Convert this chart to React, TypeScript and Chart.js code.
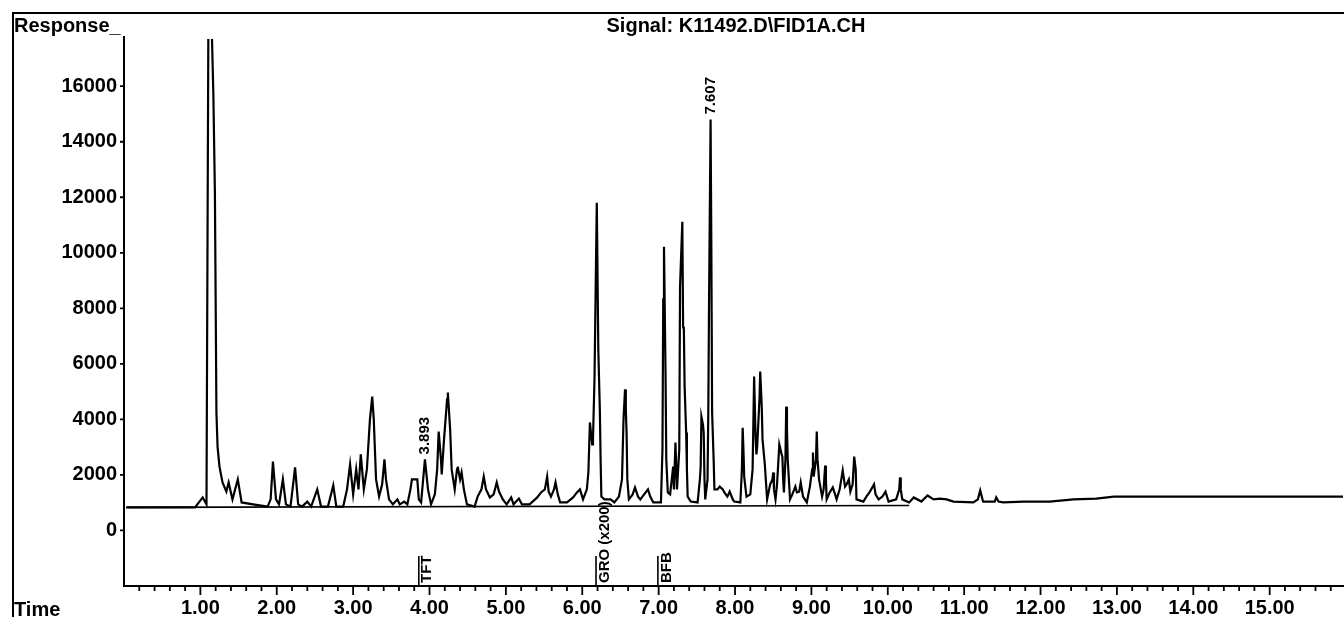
import React, { useEffect, useRef } from 'react';
import { Chart, registerables } from 'chart.js';

Chart.register(...registerables);

const FONT = '"Liberation Sans", Arial, sans-serif';

const chartTitle = 'Signal: K11492.D\\FID1A.CH';
const yAxisTitle = 'Response_';
const xAxisTitle = 'Time';

// Retention time (min) of each traced point of the FID trace
const signalTime = [
  0.03, 0.93, 1.03, 1.08, 1.105, 1.145, 1.17, 1.19, 1.2, 1.21, 1.225, 1.25, 1.29, 1.34, 1.37, 1.42, 1.49, 1.54, 1.69, 1.88,
  1.92, 1.95, 1.99, 2.03, 2.08, 2.12, 2.18, 2.24, 2.28, 2.33, 2.4, 2.45, 2.53, 2.58, 2.67, 2.74, 2.78, 2.87, 2.92, 2.96,
  3.0, 3.04, 3.07, 3.1, 3.14, 3.18, 3.22, 3.25, 3.27, 3.3, 3.34, 3.38, 3.41, 3.43, 3.47, 3.52, 3.58, 3.61, 3.67, 3.71,
  3.75, 3.77, 3.84, 3.86, 3.89, 3.94, 3.98, 4.02, 4.07, 4.1, 4.12, 4.15, 4.16, 4.19, 4.23, 4.24, 4.27, 4.29, 4.33, 4.36,
  4.37, 4.4, 4.42, 4.45, 4.49, 4.59, 4.63, 4.68, 4.71, 4.74, 4.79, 4.84, 4.88, 4.91, 4.96, 5.01, 5.07, 5.1, 5.17, 5.21,
  5.31, 5.41, 5.46, 5.51, 5.54, 5.56, 5.59, 5.63, 5.65, 5.68, 5.71, 5.8, 5.88, 5.93, 5.97, 6.01, 6.06, 6.08, 6.1, 6.13,
  6.14, 6.16, 6.19, 6.2, 6.21, 6.23, 6.24, 6.25, 6.29, 6.37, 6.42, 6.48, 6.52, 6.54, 6.56, 6.57, 6.58, 6.59, 6.61, 6.66,
  6.69, 6.73, 6.76, 6.81, 6.86, 6.89, 6.93, 7.03, 7.05, 7.06, 7.07, 7.09, 7.1, 7.12, 7.15, 7.19, 7.2, 7.22, 7.24, 7.27,
  7.28, 7.31, 7.32, 7.33, 7.34, 7.36, 7.37, 7.38, 7.42, 7.51, 7.54, 7.55, 7.56, 7.58, 7.59, 7.6, 7.61, 7.64, 7.65, 7.66,
  7.68, 7.69, 7.7, 7.72, 7.73, 7.77, 7.8, 7.84, 7.86, 7.9, 7.93, 7.97, 7.99, 8.07, 8.09, 8.1, 8.11, 8.12, 8.15, 8.2,
  8.23, 8.25, 8.27, 8.28, 8.29, 8.32, 8.33, 8.35, 8.36, 8.39, 8.42, 8.46, 8.49, 8.5, 8.51, 8.53, 8.55, 8.58, 8.59, 8.61,
  8.62, 8.63, 8.64, 8.66, 8.67, 8.68, 8.69, 8.72, 8.75, 8.79, 8.81, 8.84, 8.86, 8.89, 8.94, 8.98, 9.01, 9.02, 9.03, 9.06,
  9.07, 9.08, 9.1, 9.14, 9.16, 9.18, 9.19, 9.2, 9.24, 9.28, 9.31, 9.33, 9.37, 9.41, 9.44, 9.46, 9.49, 9.51, 9.54, 9.56,
  9.58, 9.59, 9.68, 9.72, 9.76, 9.82, 9.84, 9.88, 9.93, 9.97, 10.01, 10.11, 10.15, 10.16, 10.17, 10.19, 10.28, 10.34, 10.44, 10.52,
  10.6, 10.68, 10.77, 10.86, 11.12, 11.18, 11.21, 11.24, 11.25, 11.4, 11.42, 11.45, 11.51, 11.78, 12.12, 12.43, 12.73, 12.96, 13.17, 15.96,
];

// Detector response of each traced point
const signalResponse = [
  830, 830, 1190, 940, 18500, 18500, 15700, 12200, 8300, 4250, 3020, 2300, 1730, 1400, 1730, 1120, 1840, 1010, 940, 860,
  1120, 2480, 1120, 940, 1840, 940, 860, 2270, 940, 860, 1040, 860, 1480, 860, 860, 1620, 860, 860, 1480, 2380,
  1300, 2200, 1480, 2740, 1480, 2200, 4000, 4820, 4000, 1840, 1220, 1660, 2560, 1840, 1120, 940, 1120, 940, 1040, 940,
  1480, 1840, 1840, 1120, 1010, 2560, 1480, 940, 1300, 2200, 3560, 2560, 2020, 3280, 4720, 4970, 3640, 2200, 1480, 2200,
  2300, 1840, 2090, 1480, 940, 860, 1220, 1480, 1940, 1480, 1190, 1300, 1730, 1400, 1120, 940, 1190, 940, 1150, 940,
  940, 1190, 1370, 1480, 1940, 1400, 1220, 1480, 1730, 1300, 1010, 1010, 1190, 1370, 1480, 1120, 1480, 2090, 3890, 3100,
  3280, 5440, 11800, 9150, 6520, 4360, 2560, 1220, 1120, 1120, 1010, 1220, 1840, 4000, 5080, 4360, 3530, 1840, 1120, 1300,
  1550, 1220, 1120, 1300, 1480, 1220, 1010, 1010, 2920, 8320, 10220, 5690, 2560, 1370, 1300, 2300, 1480, 3170, 1480, 2920,
  8780, 11120, 7340, 7240, 5180, 3530, 2200, 1220, 1040, 1010, 1840, 2300, 4100, 3820, 3530, 1840, 1120, 1840, 4250, 8320,
  14800, 10120, 4250, 2560, 1480, 1480, 1580, 1480, 1370, 1220, 1400, 1120, 1040, 1010, 2200, 3700, 2920, 1940, 1220, 1300,
  2200, 5540, 3280, 2740, 3020, 4720, 5720, 4460, 3280, 2380, 1120, 1660, 1840, 2090, 1480, 1120, 1660, 3100, 2990, 2740,
  2660, 1840, 1370, 2560, 4460, 3640, 2560, 1120, 1300, 1580, 1370, 1400, 1730, 1220, 1010, 1580, 2200, 2810, 1940, 2560,
  3560, 2560, 1840, 1220, 1480, 2340, 1840, 1120, 1370, 1550, 1300, 1120, 1480, 2160, 1580, 1660, 1840, 1400, 1660, 2660,
  2200, 1120, 1040, 1220, 1370, 1660, 1300, 1120, 1220, 1400, 1040, 1120, 1480, 1910, 1480, 1120, 1010, 1190, 1040, 1260,
  1120, 1150, 1120, 1040, 1010, 1120, 1440, 1120, 1040, 1040, 1190, 1040, 1010, 1040, 1040, 1120, 1150, 1220, 1220, 1220,
];

// Integration baseline
const baselineTime = [0.03, 10.28];
const baselineResponse = [830, 900];

// Peak retention-time labels
const peakLabelTexts = ['3.893', '7.607'];
const peakLabelTimes = [3.94, 7.68];
const peakLabelResponses = [2560, 14800];

// Compound markers along the time axis
const markerTexts = ['TFT', 'GRO (x200)', 'BFB'];
const markerTimes = [3.86, 6.18, 6.99];

// Axis ticks
const yTickValues = [0, 2000, 4000, 6000, 8000, 10000, 12000, 14000, 16000];
const xMin = 0;
const xMax = 15.96;
const xTickStep = 0.2;
const yMin = -2000;
const yMax = 17700;

const decorPlugin = {
  id: 'chromDecor',
  afterDraw(chart: any) {
    const { ctx, chartArea: a, scales } = chart;
    const xs = scales.x;
    const ys = scales.y;
    ctx.save();
    ctx.strokeStyle = '#000';
    ctx.fillStyle = '#000';

    // outer frame
    ctx.lineWidth = 2;
    ctx.beginPath();
    ctx.moveTo(12, 13);
    ctx.lineTo(1344, 13);
    ctx.moveTo(13, 12);
    ctx.lineTo(13, 617);
    ctx.stroke();

    // axes
    ctx.beginPath();
    ctx.moveTo(a.left, a.top - 3);
    ctx.lineTo(a.left, a.bottom);
    ctx.lineTo(a.right + 1, a.bottom);
    ctx.stroke();

    // x tick marks
    ctx.lineWidth = 1.8;
    ctx.beginPath();
    xs.ticks.forEach((t: any) => {
      if (t.value <= xMin + 1e-9) return;
      const px = xs.getPixelForValue(t.value);
      const major = Math.abs(t.value - Math.round(t.value)) < 1e-6;
      ctx.moveTo(px, a.bottom);
      ctx.lineTo(px, a.bottom + (major ? 9 : 5));
    });
    // y tick marks
    ys.ticks.forEach((t: any) => {
      const py = ys.getPixelForValue(t.value);
      ctx.moveTo(a.left, py);
      ctx.lineTo(a.left - 4, py);
    });
    ctx.stroke();

    // titles
    ctx.font = `bold 20px ${FONT}`;
    ctx.textBaseline = 'alphabetic';
    ctx.textAlign = 'left';
    ctx.fillText(yAxisTitle, 14, 32);
    ctx.fillText(xAxisTitle, 14, 616);
    ctx.textAlign = 'center';
    ctx.fillText(chartTitle, 736, 32);

    // peak labels (rotated)
    ctx.font = `bold 15px ${FONT}`;
    peakLabelTexts.forEach((txt, i) => {
      const px = xs.getPixelForValue(peakLabelTimes[i]);
      const py = ys.getPixelForValue(peakLabelResponses[i]) - 5;
      ctx.save();
      ctx.translate(px, py);
      ctx.rotate(-Math.PI / 2);
      ctx.textAlign = 'left';
      ctx.textBaseline = 'middle';
      ctx.fillText(txt, 0, 0);
      ctx.restore();
    });

    // markers
    ctx.lineWidth = 1.6;
    markerTexts.forEach((txt, i) => {
      const px = xs.getPixelForValue(markerTimes[i]);
      ctx.beginPath();
      ctx.moveTo(px, a.bottom - 30);
      ctx.lineTo(px, a.bottom);
      ctx.stroke();
      ctx.save();
      ctx.translate(px + 1, a.bottom - 3);
      ctx.rotate(-Math.PI / 2);
      ctx.textAlign = 'left';
      ctx.textBaseline = 'top';
      ctx.fillText(txt, 0, 0);
      ctx.restore();
    });

    ctx.restore();
  },
};

export default function App() {
  const ref = useRef<HTMLCanvasElement>(null);
  useEffect(() => {
    if (!ref.current) return;
    const chart = new Chart(ref.current, {
      type: 'line',
      data: {
        datasets: [
          {
            data: signalTime.map((t, i) => ({ x: t, y: signalResponse[i] })),
            borderColor: '#000',
            borderWidth: 2.2,
            pointRadius: 0,
            tension: 0,
            fill: false,
          },
          {
            data: baselineTime.map((t, i) => ({ x: t, y: baselineResponse[i] })),
            borderColor: '#000',
            borderWidth: 1.6,
            pointRadius: 0,
            tension: 0,
            fill: false,
          },
        ],
      },
      options: {
        animation: false,
        responsive: true,
        maintainAspectRatio: false,
        events: [],
        layout: { padding: { top: 39, right: 1, left: 0, bottom: 0 } },
        plugins: {
          legend: { display: false },
          tooltip: { enabled: false },
          title: { display: false },
        },
        scales: {
          x: {
            type: 'linear',
            min: xMin,
            max: xMax,
            grid: { display: false, drawTicks: false },
            border: { display: false },
            afterFit: (s: any) => {
              s.height = 32;
            },
            ticks: {
              stepSize: xTickStep,
              includeBounds: false,
              autoSkip: false,
              maxRotation: 0,
              minRotation: 0,
              padding: 10,
              color: '#000',
              font: { family: FONT, size: 20, weight: 'bold' },
              callback: (value: any) => {
                const v = Number(value);
                return v > 0 && Math.abs(v - Math.round(v)) < 1e-6 ? v.toFixed(2) : '';
              },
            },
          },
          y: {
            type: 'linear',
            min: yMin,
            max: yMax,
            grid: { display: false, drawTicks: false },
            border: { display: false },
            afterFit: (s: any) => {
              s.width = 124;
            },
            afterBuildTicks: (s: any) => {
              s.ticks = yTickValues.map((v) => ({ value: v }));
            },
            ticks: {
              padding: 7,
              color: '#000',
              font: { family: FONT, size: 20, weight: 'bold' },
              callback: (value: any) => String(value),
            },
          },
        },
      },
      plugins: [decorPlugin],
    } as any);
    return () => chart.destroy();
  }, []);
  return (
    <div style={{ position: 'absolute', left: 0, top: 0, width: 1344, height: 618, background: '#fff' }}>
      <canvas ref={ref} />
    </div>
  );
}
